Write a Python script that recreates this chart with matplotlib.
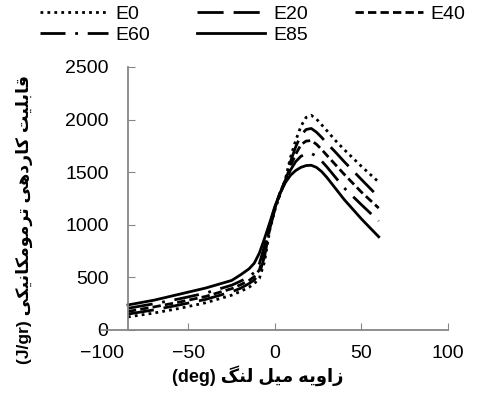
import matplotlib
matplotlib.use("Agg")
import matplotlib.pyplot as plt

# crank angle (deg) and thermo-mechanical work (J/gr)
angle = [-85, -70, -55, -40, -25, -20, -15, -12, -9, -6, -3, 0, 3, 6, 9, 12, 15, 18, 21, 24, 27, 30, 35, 40, 50, 60]
e0 = [123, 160, 205, 258, 330, 365, 405, 440, 490, 650, 950, 1140, 1290, 1430, 1640, 1800, 1935, 2020, 2040, 2005, 1950, 1895, 1800, 1715, 1555, 1405]
e20 = [150, 190, 238, 290, 362, 395, 440, 475, 530, 700, 960, 1150, 1300, 1420, 1600, 1740, 1850, 1905, 1915, 1880, 1830, 1775, 1690, 1600, 1430, 1262]
e40 = [175, 218, 265, 318, 392, 428, 470, 505, 570, 740, 980, 1160, 1310, 1420, 1560, 1670, 1760, 1795, 1800, 1765, 1715, 1660, 1570, 1480, 1310, 1158]
e60 = [205, 248, 296, 350, 425, 462, 505, 545, 630, 800, 1000, 1165, 1300, 1410, 1520, 1600, 1650, 1675, 1678, 1650, 1605, 1550, 1450, 1350, 1190, 1035]
e85 = [237, 282, 340, 398, 470, 522, 580, 633, 730, 870, 1020, 1175, 1300, 1400, 1470, 1515, 1545, 1562, 1565, 1545, 1505, 1450, 1345, 1240, 1055, 885]
names = ["E0", "E20", "E40", "E60", "E85"]

# persian shaping (matplotlib has no arabic shaping / bidi)
FORMS = {
    "ا": ("\uFE8D", "\uFE8E", None, None),
    "ب": ("\uFE8F", "\uFE90", "\uFE91", "\uFE92"),
    "ت": ("\uFE95", "\uFE96", "\uFE97", "\uFE98"),
    "د": ("\uFEA9", "\uFEAA", None, None),
    "ر": ("\uFEAD", "\uFEAE", None, None),
    "ز": ("\uFEAF", "\uFEB0", None, None),
    "ق": ("\uFED5", "\uFED6", "\uFED7", "\uFED8"),
    "ل": ("\uFEDD", "\uFEDE", "\uFEDF", "\uFEE0"),
    "م": ("\uFEE1", "\uFEE2", "\uFEE3", "\uFEE4"),
    "ن": ("\uFEE5", "\uFEE6", "\uFEE7", "\uFEE8"),
    "ه": ("\uFEE9", "\uFEEA", "\uFEEB", "\uFEEC"),
    "و": ("\uFEED", "\uFEEE", None, None),
    "ی": ("\uFBFC", "\uFBFD", "\uFBFE", "\uFBFF"),
    "ک": ("\uFB8E", "\uFB8F", "\uFB90", "\uFB91"),
    "گ": ("\uFB92", "\uFB93", "\uFB94", "\uFB95"),
}


def rtl(s):
    out = []
    for i, c in enumerate(s):
        if c not in FORMS:
            out.append(c)
            continue
        f = FORMS[c]
        prev = s[i - 1] if i > 0 else ""
        nxt = s[i + 1] if i < len(s) - 1 else ""
        jp = prev in FORMS and FORMS[prev][2] is not None
        jn = f[2] is not None and nxt in FORMS
        if jp and jn:
            out.append(f[3])
        elif jp:
            out.append(f[1])
        elif jn:
            out.append(f[2])
        else:
            out.append(f[0])
    return "".join(out)[::-1]


plt.rcParams["font.family"] = ["Liberation Sans", "DejaVu Sans"]
plt.rcParams["font.size"] = 14

fig = plt.figure(figsize=(4.79, 3.96), dpi=100)
ax = fig.add_axes([0.213, 0.167, 0.722, 0.664])

styles = [(0, (1, 1.5)), (0, (9.4, 3.6)), (0, (3, 1.5)), (0, (9, 3.5, 1, 3.5)), "-"]
lines = []
for y, ls, nm in zip([e0, e20, e40, e60, e85], styles, names):
    ln, = ax.plot(angle, y, color="black", lw=2.0, linestyle=ls, label=nm)
    lines.append(ln)

ax.set_xlim(-100, 100)
ax.set_ylim(0, 2500)
ax.set_xticks([-100, -50, 0, 50, 100])
ax.set_yticks([0, 500, 1000, 1500, 2000, 2500])
ax.spines["top"].set_visible(False)
ax.spines["right"].set_visible(False)
ax.spines["left"].set_position(("data", -85))
for s in ["left", "bottom"]:
    ax.spines[s].set_color("#868686")
    ax.spines[s].set_linewidth(1.3)
ax.tick_params(axis="y", direction="in", length=5, color="#868686", pad=14)
ax.tick_params(axis="x", direction="in", length=5, color="#868686", pad=11)
ax.xaxis.get_major_ticks()[0].tick1line.set_visible(False)

ax.set_xlabel("(deg) " + rtl("زاویه میل لنگ"), fontweight="bold", fontsize=13)
ax.xaxis.set_label_coords(0.45, -0.135)
ax.set_ylabel("(J/gr) " + rtl("قابلیت کاردهی ترمومکانیکی"), fontweight="bold", fontsize=12.5)
ax.yaxis.set_label_coords(-0.2, 0.42)

order = [0, 3, 1, 4, 2]
fig.legend([lines[i] for i in order], [names[i] for i in order], ncol=3,
           loc="upper left", bbox_to_anchor=(40 / 479, 1 - 5 / 396),
           frameon=False, borderpad=0, borderaxespad=0, handlelength=3.5,
           handletextpad=0.4, columnspacing=2.4, labelspacing=0.2, fontsize=14)

fig.savefig("out.png", dpi=100)
